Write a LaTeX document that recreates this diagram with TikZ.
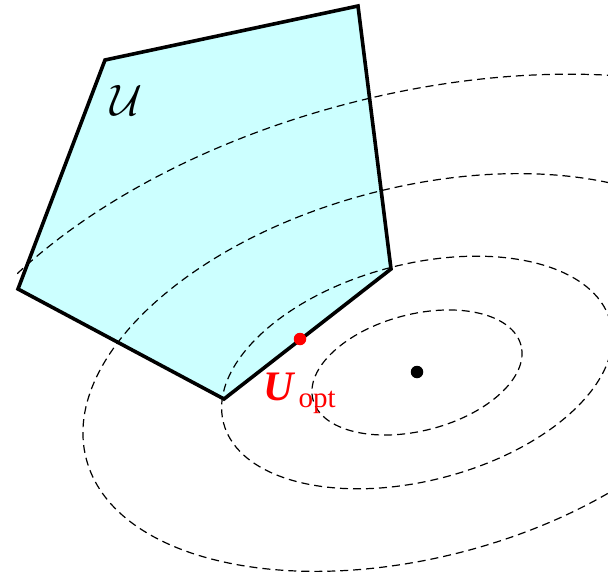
\documentclass[tikz,border=0pt]{standalone}
\usepackage{fontspec}
\setmainfont{Liberation Serif}
\definecolor{setfill}{RGB}{204,255,255}
\begin{document}
\begin{tikzpicture}[x=1pt,y=-1pt,
  contour/.style={draw=black, line width=1.2pt, dash pattern=on 8pt off 5pt},
  setedge/.style={draw=black, line width=3.6pt, line join=miter},
  dotmark/.style={circle, inner sep=0pt, minimum size=12.5pt}]
\useasboundingbox (0,0) rectangle (608,578);
% polygon vertices
\coordinate (p1) at (105,60);
\coordinate (p2) at (358,6);
\coordinate (p3) at (391,269);
\coordinate (p4) at (224,399);
\coordinate (p5) at (18,289);
\coordinate (c) at (417,372.5);
\fill[setfill] (p1) -- (p2) -- (p3) -- (p4) -- (p5) -- cycle;
\begin{scope}
  \clip (17,0) rectangle (608,578);
  \foreach \k in {1,1.86,3.18,4.77}{
    \draw[contour, rotate around={14.65:(c)}] (c) ellipse [x radius=107.5pt*\k, y radius=58.2pt*\k];
  }
\end{scope}
\draw[setedge] (p1) -- (p2) -- (p3) -- (p4) -- (p5) -- cycle;
\node[dotmark, fill=black] (xstar) at (417,372) {};
\node[dotmark, fill=red] (uopt) at (300,339) {};
\node[anchor=center, scale=4.4] (setlabel) at (126,100) {$\mathcal{U}$};
\node[anchor=base west, inner sep=0pt, text=red] (uoptlabel) at (263,400)
  {{\fontsize{42}{46}\selectfont\bfseries\itshape U}\hspace{5pt}\raisebox{-7pt}{\fontsize{29}{32}\selectfont opt}};
\end{tikzpicture}
\end{document}
